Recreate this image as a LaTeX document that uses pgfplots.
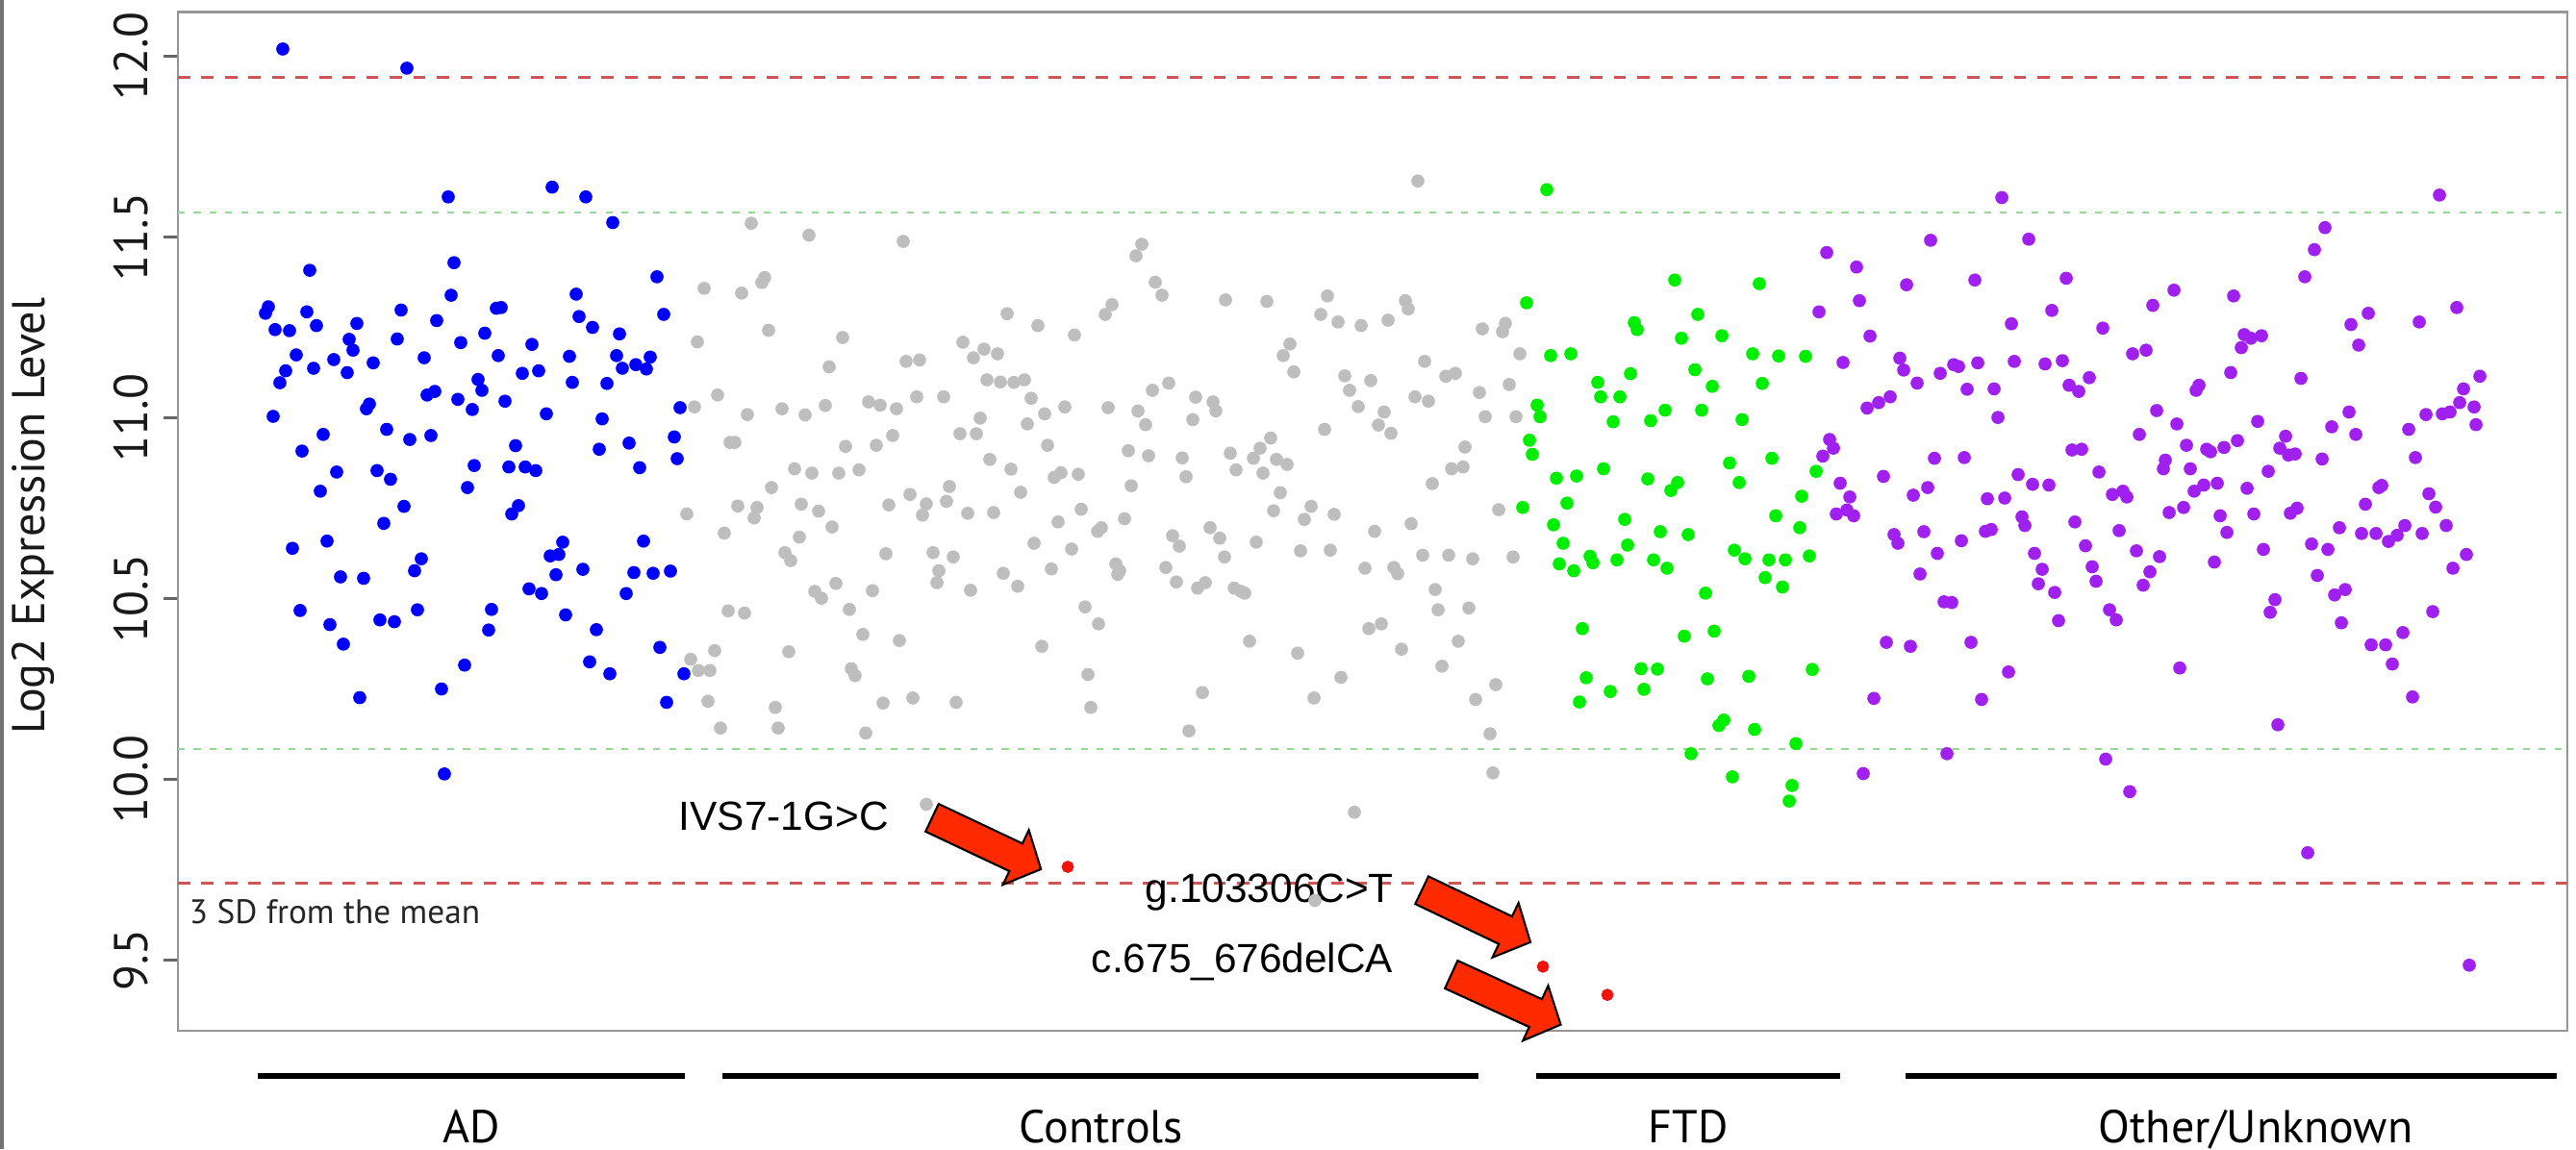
\documentclass[border=0pt]{standalone}
\usepackage{fontspec}
\setmainfont{PT Sans}
\newfontfamily\arialfont{Liberation Sans}
\usepackage{pgfplots}
\pgfplotsset{compat=1.18}
\usetikzlibrary{shapes.arrows}

\definecolor{adblue}{RGB}{0,0,255}
\definecolor{ctrlgray}{RGB}{190,190,190}
\definecolor{ftdgreen}{RGB}{0,238,0}
\definecolor{othpurple}{RGB}{160,32,240}
\definecolor{mutred}{RGB}{240,20,10}
\definecolor{sdred}{RGB}{205,85,85}
\definecolor{sdgreen}{RGB}{150,215,150}
\definecolor{arrowred}{RGB}{255,42,0}
\definecolor{framegray}{RGB}{150,150,150}

\pgfplotsset{pts/.style={only marks, mark=*, mark size=1.25pt}}

\begin{document}
\begin{tikzpicture}
\begin{axis}[
  scale only axis,
  width=527.85pt, height=225.15pt,
  xmin=185, xmax=2669,
  ymin=9.3045, ymax=12.1223,
  clip=false,
  axis line style={draw=framegray, line width=0.5pt},
  xtick=\empty,
  ytick={9.5,10,10.5,11,11.5,12},
  yticklabels={9.5,10.0,10.5,11.0,11.5,12.0},
  ytick pos=left,
  tick align=outside,
  major tick length=3.2pt,
  tick style={draw=black!60, line width=0.5pt},
  yticklabel shift=3.4pt,
  yticklabel style={rotate=90, anchor=base, inner sep=0pt, font=\fontsize{10.5}{12}\selectfont, text=black!90},
  /pgf/number format/assume math mode=true,
]
\coordinate (bl) at (rel axis cs:0,0);
\coordinate (tr) at (rel axis cs:1,1);
\coordinate (yl) at (rel axis cs:0,0.505);

% mean +/- 3 SD (red) and +/- 2 SD (green)
\addplot[sdred, line width=0.6pt, dash pattern=on 2.7pt off 2.5pt] coordinates {(185,11.941) (2669,11.941)};
\addplot[sdred, line width=0.6pt, dash pattern=on 2.7pt off 2.5pt] coordinates {(185,9.712) (2669,9.712)};
\addplot[sdgreen, line width=0.5pt, dash pattern=on 1.5pt off 2pt] coordinates {(185,11.568) (2669,11.568)};
\addplot[sdgreen, line width=0.5pt, dash pattern=on 1.5pt off 2pt] coordinates {(185,10.084) (2669,10.084)};

% AD
\addplot[pts, color=adblue] table[row sep=\\] {x y\\
294 12.020\\ 423 11.967\\ 574 11.638\\ 609 11.611\\ 466 11.611\\ 637 11.540\\ 472 11.429\\ 322 11.408\\ 683 11.390\\ 469 11.339\\
599 11.342\\ 279 11.307\\ 276 11.289\\ 319 11.293\\ 690 11.286\\ 602 11.280\\ 417 11.298\\ 516 11.303\\ 521 11.305\\ 454 11.269\\
371 11.261\\ 329 11.255\\ 286 11.244\\ 301 11.241\\ 616 11.250\\ 504 11.234\\ 644 11.232\\ 363 11.217\\ 413 11.218\\ 479 11.208\\
553 11.203\\ 367 11.187\\ 308 11.174\\ 347 11.161\\ 441 11.166\\ 518 11.172\\ 592 11.170\\ 641 11.172\\ 676 11.168\\ 388 11.152\\
661 11.147\\ 672 11.135\\ 647 11.137\\ 326 11.137\\ 297 11.130\\ 361 11.125\\ 543 11.123\\ 560 11.130\\ 291 11.097\\ 497 11.106\\
501 11.076\\ 595 11.098\\ 631 11.095\\ 444 11.063\\ 452 11.073\\ 476 11.051\\ 525 11.046\\ 384 11.038\\ 381 11.025\\ 491 11.023\\
568 11.011\\ 707 11.028\\ 284 11.004\\ 626 10.997\\ 402 10.968\\ 336 10.954\\ 448 10.951\\ 426 10.940\\ 701 10.947\\ 536 10.923\\
654 10.930\\ 314 10.908\\ 623 10.913\\ 704 10.887\\ 493 10.868\\ 529 10.864\\ 546 10.864\\ 557 10.854\\ 665 10.862\\ 350 10.850\\
392 10.854\\ 406 10.830\\ 486 10.807\\ 333 10.797\\ 420 10.755\\ 539 10.757\\ 532 10.734\\ 399 10.708\\
304 10.639\\ 340 10.659\\ 354 10.560\\ 378 10.556\\ 438 10.610\\ 431 10.577\\ 585 10.656\\ 572 10.618\\ 581 10.622\\ 578 10.566\\
606 10.581\\ 669 10.659\\ 659 10.572\\ 679 10.570\\ 697 10.576\\ 550 10.527\\ 563 10.514\\ 651 10.514\\ 312 10.467\\ 343 10.428\\
395 10.441\\ 410 10.436\\ 434 10.469\\ 511 10.470\\ 508 10.413\\ 357 10.374\\ 588 10.455\\ 620 10.414\\ 686 10.365\\ 483 10.316\\
613 10.325\\ 634 10.292\\ 711 10.292\\ 459 10.250\\ 374 10.226\\ 693 10.213\\ 462 10.015\\
};

% Controls
\addplot[pts, color=ctrlgray] table[row sep=\\] {x y\\
718 10.332\\ 726 10.301\\ 725 11.210\\ 722 11.030\\ 714 10.734\\
781 11.538\\ 841 11.505\\ 939 11.488\\ 1187 11.480\\ 1181 11.448\\ 732 11.358\\ 771 11.345\\ 795 11.388\\ 792 11.374\\ 1201 11.375\\
1208 11.339\\ 1047 11.288\\ 1079 11.255\\ 1156 11.313\\ 1149 11.286\\ 799 11.242\\ 876 11.222\\ 1117 11.229\\ 1001 11.209\\ 1023 11.190\\
1012 11.166\\ 1037 11.177\\ 942 11.156\\ 956 11.160\\ 862 11.141\\ 1026 11.105\\ 1040 11.099\\ 1054 11.098\\ 1065 11.105\\ 1215 11.096\\
1198 11.076\\ 746 11.063\\ 953 11.058\\ 981 11.058\\ 1072 11.054\\ 1243 11.057\\ 1261 11.044\\ 1264 11.019\\ 903 11.044\\ 915 11.035\\
858 11.034\\ 932 11.025\\ 813 11.025\\ 777 11.009\\ 837 11.008\\ 1107 11.030\\ 1152 11.028\\ 1183 11.019\\ 1086 11.011\\ 1019 10.999\\
1068 10.983\\ 1191 10.981\\ 1240 10.995\\ 759 10.932\\ 764 10.932\\ 928 10.951\\ 998 10.956\\ 1015 10.956\\ 879 10.921\\ 911 10.924\\
1089 10.924\\ 1173 10.909\\ 1194 10.895\\ 1229 10.889\\ 1233 10.837\\ 1029 10.885\\ 1051 10.858\\ 826 10.859\\ 844 10.847\\ 872 10.847\\
893 10.856\\ 1096 10.835\\ 1103 10.848\\ 1121 10.844\\ 1176 10.812\\ 802 10.807\\ 987 10.810\\ 946 10.788\\ 1061 10.794\\ 767 10.756\\
787 10.752\\ 784 10.723\\ 833 10.761\\ 851 10.742\\ 924 10.759\\ 963 10.762\\ 959 10.731\\ 984 10.769\\ 1006 10.736\\ 1033 10.738\\
1124 10.747\\ 1100 10.712\\ 1169 10.721\\ 1258 10.696\\ 865 10.698\\ 1145 10.696\\
753 10.681\\ 831 10.670\\ 816 10.627\\ 822 10.605\\ 921 10.624\\ 970 10.627\\ 991 10.615\\ 976 10.577\\ 974 10.544\\ 869 10.542\\
907 10.522\\ 847 10.520\\ 854 10.501\\ 1009 10.523\\ 1043 10.570\\ 1058 10.534\\ 1075 10.653\\ 1114 10.637\\ 1093 10.582\\ 1141 10.686\\
1160 10.596\\ 1164 10.577\\ 1162 10.567\\ 1219 10.674\\ 1226 10.645\\ 1212 10.586\\ 1223 10.546\\ 1245 10.529\\ 1253 10.544\\ 1268 10.667\\
757 10.466\\ 774 10.460\\ 883 10.470\\ 1128 10.477\\ 1142 10.430\\ 897 10.401\\ 935 10.384\\ 743 10.356\\ 820 10.353\\ 1083 10.368\\
738 10.301\\ 885 10.306\\ 889 10.287\\ 1131 10.290\\ 736 10.216\\ 806 10.199\\ 918 10.211\\ 949 10.225\\ 994 10.213\\ 1134 10.199\\
1250 10.240\\ 749 10.142\\ 809 10.142\\ 900 10.128\\ 1236 10.134\\ 963 9.931\\
1474 11.655\\ 1274 11.326\\ 1317 11.322\\ 1380 11.337\\ 1373 11.286\\ 1391 11.265\\ 1415 11.255\\ 1443 11.270\\ 1461 11.324\\ 1464 11.301\\
1541 11.246\\ 1565 11.261\\ 1562 11.238\\ 1341 11.204\\ 1334 11.172\\ 1345 11.127\\ 1481 11.156\\ 1580 11.177\\ 1398 11.116\\ 1425 11.103\\
1403 11.076\\ 1503 11.115\\ 1513 11.123\\ 1569 11.092\\ 1538 11.070\\ 1471 11.058\\ 1485 11.046\\ 1412 11.031\\ 1439 11.016\\ 1433 10.980\\
1446 10.957\\ 1544 11.003\\ 1576 11.003\\ 1377 10.968\\ 1321 10.944\\ 1310 10.916\\ 1279 10.902\\ 1303 10.888\\ 1285 10.856\\ 1313 10.847\\
1327 10.885\\ 1338 10.871\\ 1523 10.919\\ 1509 10.859\\ 1521 10.864\\ 1489 10.818\\ 1331 10.793\\ 1324 10.743\\ 1363 10.755\\ 1356 10.719\\
1387 10.733\\ 1467 10.707\\ 1558 10.746\\
1273 10.615\\ 1306 10.656\\ 1352 10.632\\ 1383 10.634\\ 1429 10.686\\ 1419 10.584\\ 1449 10.586\\ 1453 10.569\\ 1479 10.620\\ 1506 10.620\\
1531 10.610\\ 1573 10.615\\ 1283 10.529\\ 1290 10.520\\ 1294 10.515\\ 1492 10.525\\ 1495 10.469\\ 1527 10.474\\ 1423 10.417\\ 1436 10.430\\
1299 10.382\\ 1349 10.349\\ 1457 10.360\\ 1516 10.382\\ 1499 10.313\\ 1394 10.282\\ 1366 10.225\\ 1555 10.262\\ 1534 10.221\\ 1549 10.126\\
1552 10.018\\ 1408 9.909\\ 1367 9.665\\
};

% FTD
\addplot[pts, color=ftdgreen] table[row sep=\\] {x y\\
1608 11.631\\ 1741 11.381\\ 1587 11.318\\ 1765 11.286\\ 1699 11.263\\ 1702 11.244\\ 1748 11.220\\ 1790 11.227\\ 1612 11.172\\ 1633 11.177\\
1695 11.122\\ 1762 11.133\\ 1661 11.098\\ 1780 11.087\\ 1664 11.058\\ 1684 11.058\\ 1598 11.035\\ 1601 11.003\\ 1677 10.989\\ 1716 10.992\\
1731 11.021\\ 1769 11.021\\ 1590 10.938\\ 1593 10.899\\ 1667 10.859\\ 1618 10.833\\ 1639 10.839\\ 1713 10.831\\ 1744 10.821\\ 1737 10.799\\
1798 10.875\\ 1808 10.821\\ 1583 10.752\\ 1629 10.764\\ 1615 10.704\\ 1689 10.719\\
1726 10.685\\ 1755 10.677\\ 1625 10.653\\ 1692 10.648\\ 1621 10.596\\ 1636 10.577\\ 1653 10.617\\ 1656 10.599\\ 1681 10.607\\ 1719 10.607\\
1733 10.584\\ 1803 10.634\\ 1773 10.515\\ 1645 10.417\\ 1751 10.396\\ 1782 10.410\\ 1706 10.306\\ 1723 10.305\\ 1649 10.281\\ 1674 10.243\\
1709 10.249\\ 1642 10.214\\ 1775 10.278\\ 1787 10.149\\ 1792 10.164\\ 1758 10.071\\ 1801 10.007\\
1829 11.371\\ 1822 11.177\\ 1849 11.171\\ 1877 11.170\\ 1832 11.095\\ 1811 10.995\\ 1842 10.888\\ 1888 10.852\\ 1873 10.783\\ 1846 10.729\\
1871 10.696\\ 1814 10.610\\ 1839 10.607\\ 1856 10.607\\ 1881 10.618\\ 1835 10.558\\ 1853 10.532\\ 1818 10.285\\ 1884 10.304\\ 1824 10.138\\
1867 10.099\\ 1863 9.983\\ 1860 9.940\\
};

% Other/Unknown
\addplot[pts, color=othpurple] table[row sep=\\] {x y\\
2081 11.609\\ 2007 11.491\\ 2109 11.494\\ 1899 11.457\\ 1930 11.417\\ 1982 11.368\\ 2053 11.381\\ 2148 11.386\\ 2260 11.353\\ 2322 11.337\\
1933 11.324\\ 1891 11.293\\ 2133 11.297\\ 2238 11.311\\ 2091 11.260\\ 2186 11.248\\ 1944 11.226\\ 2330 11.194\\ 2217 11.177\\ 2231 11.187\\
1916 11.153\\ 1975 11.165\\ 1979 11.132\\ 2031 11.147\\ 2036 11.142\\ 2056 11.152\\ 2094 11.156\\ 2126 11.149\\ 2144 11.158\\ 2017 11.123\\
1993 11.096\\ 2319 11.125\\ 2045 11.079\\ 2073 11.080\\ 2151 11.090\\ 2161 11.073\\ 2172 11.111\\ 2286 11.090\\ 2283 11.076\\ 1965 11.058\\
1953 11.042\\ 1941 11.027\\ 2077 11.001\\ 2242 11.020\\ 2263 10.983\\ 2224 10.954\\ 1902 10.940\\ 1906 10.916\\ 1895 10.894\\ 2011 10.888\\
2042 10.890\\ 2154 10.911\\ 2164 10.913\\ 2273 10.924\\ 2294 10.913\\ 2298 10.906\\ 2312 10.918\\ 2326 10.937\\ 2182 10.850\\ 2251 10.883\\
2249 10.859\\ 2277 10.859\\ 1958 10.838\\ 1913 10.819\\ 2098 10.843\\ 2113 10.816\\ 2130 10.814\\ 2281 10.797\\ 2291 10.814\\ 2305 10.819\\
1923 10.781\\ 1989 10.786\\ 2004 10.807\\ 2066 10.776\\ 2084 10.778\\ 2196 10.788\\ 2207 10.797\\ 2211 10.781\\ 1909 10.734\\ 1920 10.745\\
1927 10.729\\ 2102 10.726\\ 2105 10.702\\ 2157 10.712\\ 2255 10.738\\ 2270 10.752\\ 2308 10.729\\
1969 10.677\\ 1973 10.653\\ 2000 10.685\\ 2039 10.660\\ 2064 10.686\\ 2070 10.691\\ 2203 10.688\\ 2315 10.683\\ 2014 10.625\\ 1996 10.568\\
2115 10.625\\ 2123 10.581\\ 2119 10.541\\ 2136 10.517\\ 2140 10.439\\ 2168 10.646\\ 2175 10.588\\ 2179 10.548\\ 2221 10.632\\ 2245 10.616\\
2235 10.574\\ 2228 10.537\\ 2193 10.469\\ 2200 10.441\\ 2302 10.601\\ 2021 10.491\\ 2029 10.489\\ 1961 10.379\\ 1986 10.368\\ 2049 10.379\\
2088 10.297\\ 1948 10.224\\ 2060 10.221\\ 2266 10.308\\ 2024 10.071\\ 1937 10.016\\ 2189 10.056\\ 2214 9.966\\
2536 11.616\\ 2417 11.526\\ 2406 11.465\\ 2396 11.390\\ 2554 11.305\\ 2462 11.289\\ 2444 11.258\\ 2515 11.265\\ 2452 11.201\\ 2333 11.230\\
2340 11.220\\ 2351 11.227\\ 2392 11.109\\ 2578 11.115\\ 2561 11.080\\ 2557 11.042\\ 2572 11.030\\ 2574 10.981\\ 2547 11.016\\ 2539 11.011\\
2522 11.009\\ 2504 10.968\\ 2442 11.016\\ 2449 10.954\\ 2424 10.975\\ 2347 10.990\\ 2376 10.949\\ 2370 10.916\\ 2379 10.897\\ 2386 10.900\\
2414 10.886\\ 2511 10.890\\ 2358 10.852\\ 2336 10.805\\ 2473 10.807\\ 2476 10.813\\ 2525 10.790\\ 2532 10.753\\ 2459 10.761\\ 2381 10.736\\
2388 10.750\\ 2343 10.734\\ 2543 10.702\\ 2432 10.696\\ 2500 10.702\\
2455 10.680\\ 2470 10.680\\ 2483 10.658\\ 2492 10.675\\ 2518 10.680\\ 2353 10.636\\ 2403 10.651\\ 2420 10.636\\ 2564 10.622\\ 2550 10.584\\
2409 10.564\\ 2427 10.510\\ 2438 10.525\\ 2365 10.497\\ 2360 10.462\\ 2434 10.433\\ 2529 10.464\\ 2498 10.406\\ 2465 10.372\\ 2480 10.372\\
2487 10.319\\ 2508 10.228\\ 2368 10.151\\ 2399 9.797\\ 2567 9.486\\
};

% mutation carriers
\addplot[pts, color=mutred, mark size=1.15pt] table[row sep=\\] {x y\\
1110 9.758\\ 1604 9.482\\ 1671 9.404\\
};

% text and arrows
\node[anchor=base west, inner sep=0pt, font=\fontsize{7.5}{9}\selectfont, text=black!85] at (axis cs:196,9.600) {3 SD from the mean};
\node[anchor=base west, inner sep=0pt, font=\arialfont\fontsize{9}{11}\selectfont] at (axis cs:705,9.860) {IVS7-1G>C};
\node[anchor=base west, inner sep=0pt, font=\arialfont\fontsize{9}{11}\selectfont] at (axis cs:1190,9.661) {g.103306C>T};
\node[anchor=base west, inner sep=0pt, font=\arialfont\fontsize{9}{11}\selectfont] at (axis cs:1134,9.466) {c.675\_676delCA};

\tikzset{blockarrow/.style={single arrow, draw=black, fill=arrowred, line width=0.45pt,
  inner xsep=0pt, inner ysep=3.15pt, single arrow head extend=3.3pt, single arrow tip angle=95,
  minimum height=26.6pt}}
\node[blockarrow, rotate=-25.3] at (axis cs:1019,9.831) {};
\node[blockarrow, rotate=-25.6] at (axis cs:1528,9.630) {};
\node[blockarrow, rotate=-24.6] at (axis cs:1559,9.399) {};

% group bars and names below the frame
\draw[line width=1.3pt] (axis cs:268,9.1795) -- (axis cs:712,9.1795);
\draw[line width=1.3pt] (axis cs:751,9.1795) -- (axis cs:1537,9.1795);
\draw[line width=1.3pt] (axis cs:1597,9.1795) -- (axis cs:1913,9.1795);
\draw[line width=1.3pt] (axis cs:1981,9.1795) -- (axis cs:2658,9.1795);
\node[anchor=base, inner sep=0pt, font=\fontsize{10.2}{12}\selectfont] at (axis cs:490,8.9957) {AD};
\node[anchor=base, inner sep=0pt, font=\fontsize{10.2}{12}\selectfont] at (axis cs:1145,8.9957) {Controls};
\node[anchor=base, inner sep=0pt, font=\fontsize{10.2}{12}\selectfont] at (axis cs:1755,8.9957) {FTD};
\node[anchor=base, inner sep=0pt, font=\fontsize{10.2}{12}\selectfont] at (axis cs:2345,8.9957) {Other/Unknown};
\end{axis}
\node[rotate=90, anchor=base, inner sep=0pt, font=\fontsize{10.2}{12}\selectfont, text=black!90] at ([xshift=-29.4pt]yl) {Log2 Expression Level};
% thin grey edge on the left of the original screenshot
\fill[black!55] ([xshift=-39.31pt,yshift=-26.14pt]bl) rectangle ([xshift=-38.4pt,yshift=2.66pt]bl |- tr);
\pgfresetboundingbox
\path[use as bounding box] ([xshift=-39.31pt,yshift=-26.14pt]bl) rectangle ([xshift=1.91pt,yshift=2.66pt]tr);
\end{tikzpicture}
\end{document}
